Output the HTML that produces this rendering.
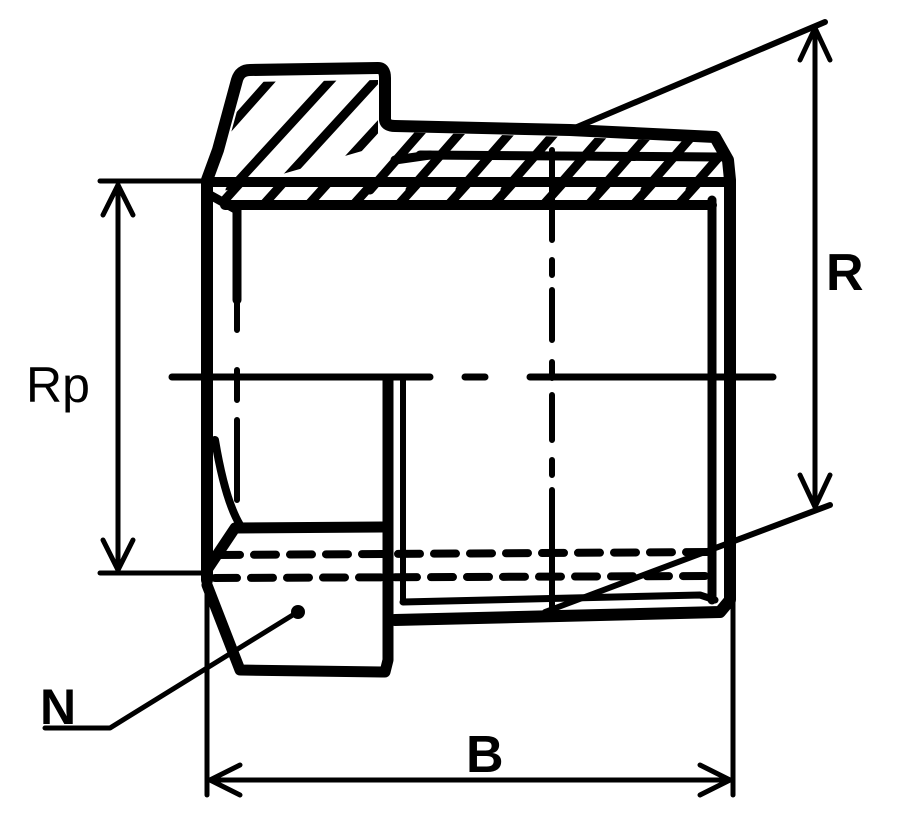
<!DOCTYPE html>
<html><head><style>html,body{margin:0;padding:0;background:#fff}svg{display:block}</style></head><body>
<svg width="914" height="813" viewBox="0 0 914 813" xmlns="http://www.w3.org/2000/svg">
<defs>
<clipPath id="hexc"><path d="M218,180 L245,82 L378,80 L378,135 L400,140 L210,195 Z"/></clipPath>
<clipPath id="thrc"><path d="M210,183 L395,132 L570,137 L712,142 L725,165 L720,200 L215,200 Z"/></clipPath>
</defs>
<g fill="none" stroke="#000" stroke-linecap="round" stroke-linejoin="round">
<g stroke-width="9" clip-path="url(#hexc)">
<line x1="200" y1="160" x2="280" y2="70"/>
<line x1="230" y1="190" x2="340" y2="70"/>
<line x1="275" y1="190" x2="385" y2="70"/>
<line x1="320" y1="190" x2="430" y2="70"/>
</g>
<g stroke-width="9" clip-path="url(#thrc)">
<line x1="370" y1="190" x2="440" y2="110"/>
<line x1="410" y1="190" x2="480" y2="110"/>
<line x1="460" y1="190" x2="530" y2="110"/>
<line x1="505" y1="190" x2="575" y2="110"/>
<line x1="555" y1="190" x2="625" y2="110"/>
<line x1="600" y1="190" x2="670" y2="110"/>
<line x1="645" y1="190" x2="715" y2="110"/>
<line x1="690" y1="190" x2="760" y2="110"/>
<line x1="222" y1="203" x2="240" y2="183"/>
<line x1="265" y1="203" x2="283" y2="183"/>
<line x1="310" y1="203" x2="328" y2="183"/>
<line x1="355" y1="203" x2="373" y2="183"/>
<line x1="400" y1="203" x2="418" y2="183"/>
<line x1="450" y1="203" x2="468" y2="183"/>
<line x1="495" y1="203" x2="513" y2="183"/>
<line x1="545" y1="203" x2="563" y2="183"/>
<line x1="590" y1="203" x2="608" y2="183"/>
<line x1="635" y1="203" x2="653" y2="183"/>
<line x1="680" y1="203" x2="698" y2="183"/>
<line x1="395" y1="160" x2="430" y2="155"/>
<line x1="420" y1="155" x2="720" y2="157"/>
</g>
<path stroke-width="12" d="M207,580 L207,180 L218,150 L237,80 Q240,70 250,70 L378,68 Q385,68 385,78 L385,120 Q386,126 395,126 L570,130 L715,137 L728,160 L730,180 L730,600 L720,612 L395,620"/>
<line stroke-width="10" x1="207" y1="182" x2="730" y2="182"/>
<line stroke-width="10" x1="225" y1="205" x2="712" y2="205"/>
<line stroke-width="9" x1="237" y1="205" x2="237" y2="300"/>
<path stroke-width="9" d="M210,195 L237,210"/>
<line stroke-width="9" x1="712" y1="200" x2="712" y2="600"/>
<path stroke-width="11" d="M207,570 L235,528 L388,527 M207,585 L240,670 L385,672 L388,660 L388,380"/>
<line stroke-width="6" x1="403" y1="380" x2="403" y2="602"/>
<path stroke-width="7" d="M403,602 L700,595 L715,600"/>
<path stroke-width="8" d="M215,440 Q225,500 240,525"/>
<path stroke-width="6" d="M237,300 L237,330 M237,370 L237,400 M237,420 L237,500"/>
<g stroke-width="8">
<path stroke-dasharray="22 14" d="M218,555 L710,552"/>
<path stroke-dasharray="22 14" d="M215,578 L705,576"/>
</g>
<path stroke-width="7" d="M172,377 L430,377 M465,377 L485,377 M530,377 L773,377"/>
<path stroke-width="6" d="M552,150 L552,240 M552,260 L552,275 M552,290 L552,340 M552,362 L552,378 M552,395 L552,440 M552,460 L552,475 M552,490 L552,610"/>
<line stroke-width="6" x1="570" y1="130" x2="825" y2="22"/>
<line stroke-width="6" x1="545" y1="612" x2="830" y2="505"/>
<path stroke-width="5" d="M296,613 L110,728 L45,728"/>
<circle cx="298" cy="612" r="7" fill="#000" stroke="none"/>
<g stroke-width="5">
<line x1="100" y1="181" x2="207" y2="181"/>
<line x1="100" y1="573" x2="207" y2="573"/>
<line x1="118" y1="185" x2="118" y2="570"/>
<path d="M103,215 L118,185 L133,215 M103,540 L118,570 L133,540"/>
<line x1="815" y1="28" x2="815" y2="505"/>
<path d="M800,60 L815,28 L830,60 M800,475 L815,507 L830,475"/>
<line x1="207" y1="580" x2="207" y2="795"/>
<line x1="733" y1="600" x2="733" y2="795"/>
<line x1="210" y1="780" x2="730" y2="780"/>
<path d="M240,765 L210,780 L240,795 M700,765 L730,780 L700,795"/>
</g>
</g>
<g font-family="Liberation Sans, sans-serif" fill="#000">
<text x="26" y="402" font-size="50">Rp</text>
<text x="826" y="290" font-size="52" font-weight="bold">R</text>
<text x="40" y="724" font-size="50" font-weight="bold">N</text>
<text x="466" y="772" font-size="52" font-weight="bold">B</text>
</g>
</svg>
</body></html>
